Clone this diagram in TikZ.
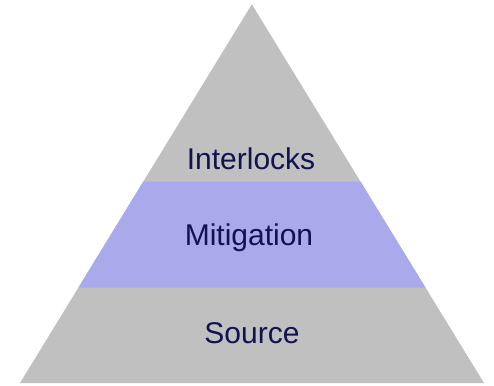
\documentclass[tikz,border=0pt]{standalone}
\usepackage{fontspec}
\setmainfont{Liberation Sans}
\usetikzlibrary{calc}
\definecolor{pgray}{RGB}{192,192,192}
\definecolor{pblue}{RGB}{169,169,236}
\definecolor{ptext}{RGB}{18,18,80}
\begin{document}
\begin{tikzpicture}[x=1pt,y=1pt,
  label/.style={anchor=base,text=ptext,font=\fontsize{30}{36}\selectfont,inner sep=0pt}]
\useasboundingbox (0,0) rectangle (494,385);
\coordinate (A) at (251.8,380.7);
\coordinate (L) at (20,2);
\coordinate (R) at (484,2);
\coordinate (L1) at ($(L)!0.2517!(A)$);
\coordinate (R1) at ($(R)!0.2517!(A)$);
\coordinate (L2) at ($(L)!0.5316!(A)$);
\coordinate (R2) at ($(R)!0.5316!(A)$);
\fill[pgray] (L) -- (R) -- (A) -- cycle;
\fill[pblue] (L1) -- (R1) -- (R2) -- (L2) -- cycle;
\node[label] (interlocks) at (251,215) {Interlocks};
\node[label] (mitigation) at (249,139) {Mitigation};
\node[label] (source) at (252,41.7) {Source};
\end{tikzpicture}
\end{document}
